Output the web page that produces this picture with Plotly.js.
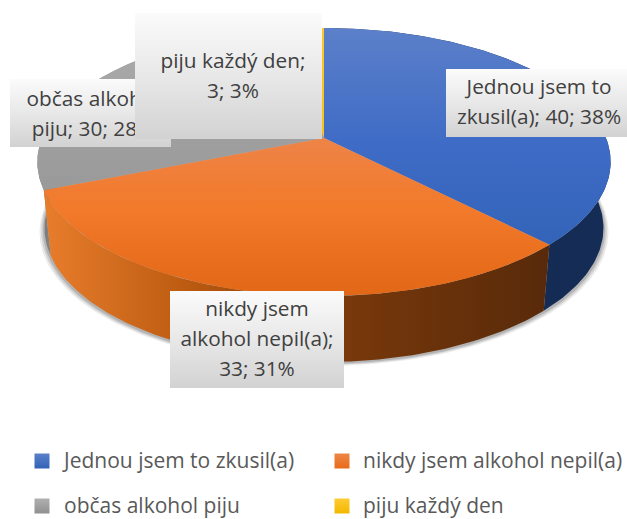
<!DOCTYPE html>
<html><head><meta charset="utf-8">
<script src="https://cdn.plot.ly/plotly-3.0.1.min.js"></script>
<style>html,body{margin:0;padding:0;background:#fff}#c{width:627px;height:519px}</style>
</head><body><div id="c"></div>
<script>
const categories = ['Jednou jsem to zkusil(a)','nikdy jsem alkohol nepil(a)','občas alkohol piju','piju každý den'];
const values = [40,33,30,3];
const labelLines = [
  ['Jednou jsem to','zkusil(a); 40; 38%'],
  ['nikdy jsem','alkohol nepil(a);','33; 31%'],
  ['občas alkohol','piju; 30; 28%'],
  ['piju každý den;','3; 3%']
];
const topColors = [
  [[0,'#5c80c9'],[0.42,'#3f6cc6'],[1,'#2e5fb3']],
  [[0,'#ee8448'],[0.2,'#f07f3a'],[0.45,'#f27a2a'],[1,'#e26716']],
  [[0,'#ababab'],[1,'#8e8e8e']],
  [[0,'#ffc926'],[1,'#f2b800']]
];
const sideColors = [
  [[0,'#13294f'],[1,'#152c56']],
  [[0,'#e87d2c'],[0.3,'#b9590f'],[0.55,'#7c3a0b'],[1,'#582a0a']],
  [[0,'#6f6f6f'],[0.5,'#8f8f8f'],[1,'#8f8f8f']],
  [[0,'#8a6c00'],[1,'#8a6c00']]
];
const legendTop = ['#5b80c8','#ee8646','#b0b0b0','#ffcb33'];
const legendBottom = ['#3163b8','#e86b1a','#909090','#f2b800'];

const CX=324, CY=138, A=129.7, C=282, K=0.179, DEPTH=66, SHR=0.975;
function topPt(f){const t=2*Math.PI*f,u=Math.sin(t),v=Math.cos(t),w=1+K*v;return [CX+C*u/w,CY-A*v/w];}
function botPt(f){const p=topPt(f);return [CX+(p[0]-CX)*SHR,p[1]+DEPTH];}
function arc(fn,a,b,rev){const n=Math.max(2,Math.ceil(Math.abs(b-a)*360));const o=[];
  for(let i=0;i<=n;i++){const s=rev?1-i/n:i/n;o.push(fn(a+(b-a)*s));}return o;}
const total=values.reduce((s,v)=>s+v,0);
const starts=[];let acc=0;values.forEach(v=>{starts.push(acc/total);acc+=v;});
const ends=values.map((v,i)=>starts[i]+v/total);
const base={type:'scatter',mode:'lines',line:{width:0},hoverinfo:'skip',showlegend:false,fill:'toself'};
const traces=[];

// soft shadow under the lower rim
[[1.018,4,0.10],[1.012,3,0.14],[1.006,2,0.20]].forEach(s=>{
  const pts=arc(botPt,0,1);
  traces.push(Object.assign({},base,{x:pts.map(p=>CX+(p[0]-CX)*s[0]),y:pts.map(p=>p[1]+s[1]),fillcolor:'rgba(60,60,60,'+s[2]+')'}));
});
// sides
[3,2,0,1].forEach(i=>{
  const pts=arc(topPt,starts[i],ends[i]).concat(arc(botPt,starts[i],ends[i],true));
  const grad= i===1?{type:'horizontal',start:44,stop:550,colorscale:sideColors[i]}:
              i===2?{type:'horizontal',start:36,stop:80,colorscale:sideColors[i]}:
              {type:'horizontal',colorscale:sideColors[i]};
  traces.push(Object.assign({},base,{x:pts.map(p=>p[0]),y:pts.map(p=>p[1]),fillgradient:grad}));
});
// tops
[3,2,0,1].forEach(i=>{
  const pts=[[CX,CY]].concat(arc(topPt,starts[i],ends[i]));pts.push([CX,CY]);
  traces.push(Object.assign({},base,{x:pts.map(p=>p[0]),y:pts.map(p=>p[1]),
    fillgradient:{type:'vertical',start:i===1?138:28,stop:296,colorscale:topColors[i]}}));
});
// data label boxes, in stacking order, with text as part of each
const boxes=[[446,69,627,137],[170,291,344,388],[10,79,171,147],[135,13,322,139]];
const textCx=[539,257,93,233];
const firstLine=[89,311,101,63];
const lineStep=30;
const boxScale=[[0,'#fbfbfb'],[0.55,'#e6e6e6'],[1,'#d2d2d2']];
[0,1,2,3].forEach(i=>{
  const b=boxes[i];
  traces.push(Object.assign({},base,{x:[b[0],b[2],b[2],b[0],b[0]],y:[b[1],b[1],b[3],b[3],b[1]],
    fillgradient:{type:'vertical',start:b[1],stop:b[3],colorscale:boxScale}}));
  traces.push({type:'scatter',mode:'text',hoverinfo:'skip',showlegend:false,cliponaxis:false,
    x:labelLines[i].map(()=>textCx[i]),
    y:labelLines[i].map((_,j)=>firstLine[i]+j*lineStep),
    text:labelLines[i],textposition:'middle center',
    textfont:{family:'"Open Sans",sans-serif',size:20.8,color:'#404040'}});
});
// legend
const legX=[42,342,42,342], legY=[461,461,506,506], legTX=[64,363,64,363];
categories.forEach((c,i)=>{
  traces.push({type:'scatter',mode:'markers',hoverinfo:'skip',showlegend:false,x:[legX[i]],y:[legY[i]],
    marker:{symbol:'square',size:15,color:legendTop[i],gradient:{type:'vertical',color:legendBottom[i]},line:{width:0}}});
  traces.push({type:'scatter',mode:'text',hoverinfo:'skip',showlegend:false,x:[legTX[i]],y:[legY[i]+2],
    text:[c],textposition:'middle right',textfont:{family:'"Open Sans",sans-serif',size:21,color:'#595959'}});
});
Plotly.newPlot('c',traces,{
  width:627,height:519,margin:{l:0,r:0,t:0,b:0},showlegend:false,
  paper_bgcolor:'#fff',plot_bgcolor:'#fff',
  xaxis:{range:[0,627],visible:false,fixedrange:true},
  yaxis:{range:[519,0],visible:false,fixedrange:true}
},{displayModeBar:false,staticPlot:true});
</script></body></html>
